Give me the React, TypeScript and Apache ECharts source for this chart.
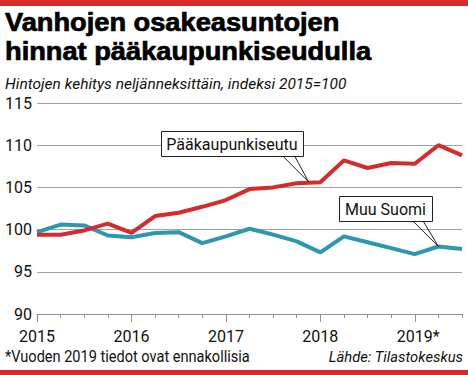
import React, { useEffect, useRef } from "react";
import * as echarts from "echarts";

const quarters = [
  "2015 Q1", "2015 Q2", "2015 Q3", "2015 Q4",
  "2016 Q1", "2016 Q2", "2016 Q3", "2016 Q4",
  "2017 Q1", "2017 Q2", "2017 Q3", "2017 Q4",
  "2018 Q1", "2018 Q2", "2018 Q3", "2018 Q4",
  "2019 Q1", "2019 Q2", "2019 Q3",
];
const yearLabels = ["2015", "2016", "2017", "2018", "2019*"];
const capitalRegion = [
  99.4, 99.4, 99.9, 100.7, 99.6, 101.6, 102.0, 102.7, 103.5, 104.8,
  105.0, 105.5, 105.6, 108.2, 107.3, 107.9, 107.8, 110.0, 108.8,
];
const restOfFinland = [
  99.7, 100.6, 100.5, 99.3, 99.1, 99.6, 99.7, 98.4, 99.2, 100.1,
  99.4, 98.6, 97.3, 99.2, 98.5, 97.8, 97.1, 98.0, 97.7,
];
const seriesNames = ["Pääkaupunkiseutu", "Muu Suomi"];
const titleLines = ["Vanhojen osakeasuntojen", "hinnat pääkaupunkiseudulla"];
const subtitle = "Hintojen kehitys neljänneksittäin, indeksi 2015=100";
const footnote = "*Vuoden 2019 tiedot ovat ennakollisia";
const source = "Lähde: Tilastokeskus";

const RED = "#d62b2b";
const BLUE = "#2c97ae";
const GRID = "#a3a3a3";

export default function App() {
  const ref = useRef<HTMLDivElement>(null);

  useEffect(() => {
    document.body.style.margin = "0";
    const chart = echarts.init(ref.current!, null, { renderer: "svg" });
    const isYear = (i: number) => i % 4 === 0;
    chart.setOption({
      animation: false,
      backgroundColor: "#ffffff",
      grid: { left: 37, right: 6, top: 103, bottom: 61, containLabel: false },
      xAxis: [
        {
          type: "category",
          data: quarters,
          boundaryGap: false,
          axisLine: { lineStyle: { color: "#8f8f8f", width: 1 } },
          axisTick: { show: true, interval: 0, length: 4, lineStyle: { color: "#8f8f8f" } },
          axisLabel: { show: false },
          splitLine: { show: false },
        },
        {
          type: "category",
          data: quarters,
          boundaryGap: false,
          position: "bottom",
          axisLine: { show: false },
          axisTick: { show: true, interval: isYear, length: 8, lineStyle: { color: "#8f8f8f" } },
          axisLabel: {
            interval: isYear,
            margin: 14,
            fontFamily: "Roboto",
            fontSize: 16,
            color: "#111",
            formatter: (v: string) => {
              const lab = yearLabels.find((y) => y.startsWith(v.slice(0, 4))) || "";
              return lab.endsWith("*") ? "{p|}" + lab : lab;
            },
            rich: { p: { width: 7 } },
          },
          splitLine: { show: false },
        },
      ],
      yAxis: {
        type: "value",
        min: 90,
        max: 115,
        interval: 5,
        axisLine: { show: false },
        axisTick: { show: false },
        splitLine: { lineStyle: { color: GRID, width: 1 } },
        axisLabel: { fontFamily: "Roboto", fontSize: 16, color: "#111", margin: 5 },
      },
      series: [
        {
          name: seriesNames[1],
          type: "line",
          data: restOfFinland,
          symbol: "none",
          lineStyle: { color: BLUE, width: 4 },
          itemStyle: { color: BLUE },
        },
        {
          name: seriesNames[0],
          type: "line",
          data: capitalRegion,
          symbol: "none",
          lineStyle: { color: RED, width: 4 },
          itemStyle: { color: RED },
        },
      ],
    });

    const pa = chart.convertToPixel({ seriesIndex: 1 }, [11, capitalRegion[11]]) as number[];
    const pb = chart.convertToPixel({ seriesIndex: 1 }, [12, capitalRegion[12]]) as number[];
    const t1 = [(pa[0] + pb[0]) / 2, (pa[1] + pb[1]) / 2 - 1];
    const t2 = chart.convertToPixel({ seriesIndex: 0 }, [17, restOfFinland[17]]) as number[];

    const callout = (t: number[], bx: number, by: number, w: number, h: number, p1: number, p2: number, text: string) => [
      {
        type: "polyline",
        z: 100,
        shape: { points: [[t[0] + p1, t[1] + by + h], [t[0], t[1]], [t[0] + p2, t[1] + by + h]] },
        style: { stroke: "#222", lineWidth: 1, fill: null },
      },
      {
        type: "rect",
        z: 101,
        shape: { x: Math.round(t[0] + bx) + 0.5, y: Math.round(t[1] + by) + 0.5, width: w, height: h },
        style: { fill: "#fff", stroke: "#222", lineWidth: 1 },
      },
      {
        type: "text",
        z: 102,
        x: Math.round(t[0] + bx) + w / 2,
        y: Math.round(t[1] + by) + h / 2 + 1,
        style: { text, fontFamily: "Roboto", fontSize: 16, fill: "#111", align: "center", verticalAlign: "middle" },
      },
    ];

    const titleStyle = {
      fontFamily: "Liberation Sans",
      fontWeight: "bold",
      fontSize: 25,
      fill: "#000",
      stroke: "#000",
      lineWidth: 0.7,
      verticalAlign: "middle",
    };

    chart.setOption({
      graphic: [
        { type: "rect", shape: { x: 0, y: 0, width: 468, height: 6 }, style: { fill: RED } },
        { type: "rect", shape: { x: 0, y: 370, width: 468, height: 5 }, style: { fill: RED } },
        { type: "text", x: 5, y: 22.5, scaleX: 1.09, style: { text: titleLines[0], ...titleStyle } },
        { type: "text", x: 5, y: 51, scaleX: 1.09, style: { text: titleLines[1], ...titleStyle } },
        {
          type: "text", x: 5, y: 83.5,
          style: { text: subtitle, fontFamily: "Roboto", fontStyle: "italic", fontSize: 15.5, fill: "#111", verticalAlign: "middle" },
        },
        {
          type: "text", x: 5, y: 356.5, scaleX: 0.91,
          style: { text: footnote, fontFamily: "Roboto", fontSize: 16, fill: "#111", verticalAlign: "middle" },
        },
        {
          type: "text", x: 463, y: 357,
          style: { text: source, fontFamily: "Roboto", fontStyle: "italic", fontSize: 14.8, fill: "#111", align: "right", verticalAlign: "middle" },
        },
        ...callout(t1, -148, -51, 142, 25, -26, -14, seriesNames[0]),
        ...callout(t2, -99, -50, 93, 25, -25, -15, seriesNames[1]),
      ],
    });

    return () => chart.dispose();
  }, []);

  return (
    <div
      ref={ref}
      style={{ width: 468, height: 375, position: "absolute", left: 0, top: 0 }}
    />
  );
}
